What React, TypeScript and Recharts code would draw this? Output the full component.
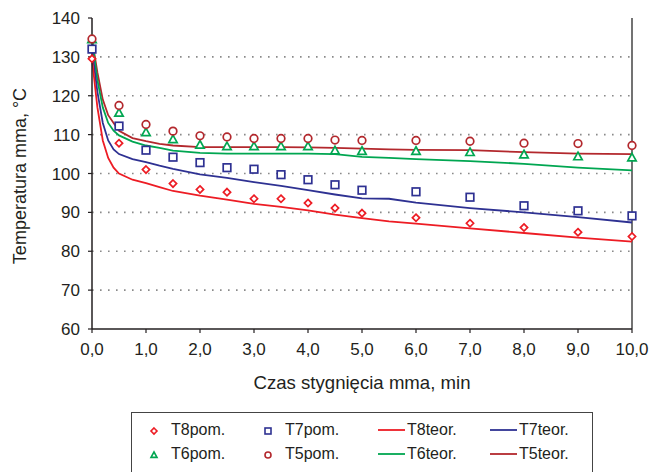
import React from 'react';
import {
  ComposedChart,
  Line,
  Scatter,
  XAxis,
  YAxis,
  CartesianGrid,
  ReferenceLine,
} from 'recharts';

// measured points (pom.)
const MEAS_X = [0, 0.5, 1, 1.5, 2, 2.5, 3, 3.5, 4, 4.5, 5, 6, 7, 8, 9, 10];
const T8_POM = [129.5, 107.8, 101, 97.4, 95.9, 95.2, 93.5, 93.5, 92.4, 91.1, 89.8, 88.6, 87.2, 86.1, 84.9, 83.8];
const T7_POM = [132, 112.2, 106, 104.2, 102.8, 101.5, 101.1, 99.7, 98.4, 97.1, 95.7, 95.3, 93.9, 91.7, 90.4, 89.1];
const T6_POM = [134.5, 115.6, 110.6, 108.8, 107.4, 107, 107, 107, 107, 105.9, 105.8, 105.8, 105.5, 104.9, 104.4, 104.1];
const T5_POM = [134.6, 117.5, 112.6, 110.9, 109.7, 109.4, 109, 109, 109, 108.6, 108.5, 108.5, 108.3, 107.8, 107.7, 107.2];

// theoretical curves (teor.)
const TEOR_X = [0, 0.1, 0.2, 0.3, 0.4, 0.5, 0.75, 1, 1.25, 1.5, 2, 2.5, 3, 3.5, 4, 4.5, 5, 5.5, 6, 7, 8, 9, 10];
const T8_TEOR = [129.5, 117, 108.5, 104, 101.5, 100, 98.4, 97.5, 96.5, 95.5, 94.3, 93.3, 92.2, 91.4, 90.5, 89.4, 88.5, 87.7, 87.1, 85.9, 84.7, 83.5, 82.5];
const T7_TEOR = [132, 121, 113, 108.5, 106.2, 105, 103.7, 102.9, 102, 101.2, 99.8, 98.9, 97.8, 96.8, 95.7, 94.6, 93.6, 93.5, 92.5, 91.1, 90, 88.8, 87.4];
const T6_TEOR = [134.5, 124, 117, 113, 111, 109.8, 108.2, 107.2, 106.6, 105.9, 105.3, 105.1, 105.1, 105.1, 105.1, 105, 104.3, 104, 103.7, 103.2, 102.5, 101.5, 100.8];
const T5_TEOR = [134.6, 126, 119, 115, 113, 111, 109.1, 108.3, 107.6, 107.2, 106.8, 106.8, 106.8, 106.8, 106.7, 106.6, 106.4, 106.2, 106.1, 106, 105.5, 105.1, 105];

const X_TICKS = [0, 1, 2, 3, 4, 5, 6, 7, 8, 9, 10];
const Y_TICKS = [60, 70, 80, 90, 100, 110, 120, 130, 140];
const GRID_Y = [70, 80, 90, 100, 110, 120, 130];

const C_T8 = '#ed1c24';
const C_T7 = '#2e3192';
const C_T6 = '#00a651';
const C_T5 = '#b3282d';

const FONT = '"Liberation Sans", Arial, sans-serif';
const TEXT = '#231f20';

const toPoints = (xs: number[], ys: number[]) => xs.map((x, i) => ({ x, y: ys[i] }));

const fmt = (v: number) => v.toFixed(1).replace('.', ',');

type Marker = 'diamond' | 'square' | 'triangle' | 'circle';

function markerPath(kind: Marker, cx: number, cy: number, s: number, color: string, sw: number) {
  if (kind === 'diamond') {
    return (
      <polygon
        points={`${cx},${cy - s} ${cx + s},${cy} ${cx},${cy + s} ${cx - s},${cy}`}
        fill="#fff"
        stroke={color}
        strokeWidth={sw}
      />
    );
  }
  if (kind === 'square') {
    return <rect x={cx - s} y={cy - s} width={s * 2} height={s * 2} fill="#fff" stroke={color} strokeWidth={sw} />;
  }
  if (kind === 'triangle') {
    return (
      <polygon
        points={`${cx},${cy - s} ${cx + s},${cy + s * 0.8} ${cx - s},${cy + s * 0.8}`}
        fill="#fff"
        stroke={color}
        strokeWidth={sw}
      />
    );
  }
  return <circle cx={cx} cy={cy} r={s} fill="#fff" stroke={color} strokeWidth={sw} />;
}

const makeShape = (kind: Marker, color: string, size: number) => (props: any) => {
  const { cx, cy } = props;
  if (cx == null || cy == null) return <g />;
  return markerPath(kind, cx, cy, size, color, 1.7);
};

const LEGEND_ITEMS: { label: string; color: string; kind: Marker | 'line'; col: number; row: number }[] = [
  { label: 'T8pom.', color: C_T8, kind: 'diamond', col: 0, row: 0 },
  { label: 'T7pom.', color: C_T7, kind: 'square', col: 1, row: 0 },
  { label: 'T8teor.', color: C_T8, kind: 'line', col: 2, row: 0 },
  { label: 'T7teor.', color: C_T7, kind: 'line', col: 3, row: 0 },
  { label: 'T6pom.', color: C_T6, kind: 'triangle', col: 0, row: 1 },
  { label: 'T5pom.', color: C_T5, kind: 'circle', col: 1, row: 1 },
  { label: 'T6teor.', color: C_T6, kind: 'line', col: 2, row: 1 },
  { label: 'T5teor.', color: C_T5, kind: 'line', col: 3, row: 1 },
];

// column starts inside the legend box (relative to box left)
const COL_X = [12, 126, 244, 356];
const ROW_Y = [17, 41];

function ChartLegend() {
  return (
    <div
      style={{
        position: 'absolute',
        left: 131,
        top: 412,
        width: 462,
        height: 64,
        boxSizing: 'border-box',
        border: '1.5px solid #444',
        fontFamily: FONT,
        fontSize: 16,
        color: TEXT,
      }}
    >
      {LEGEND_ITEMS.map((it) => {
        const x = COL_X[it.col];
        const y = ROW_Y[it.row];
        const isLine = it.kind === 'line';
        return (
          <div key={it.label} style={{ position: 'absolute', left: x, top: y - 10, height: 20, display: 'flex', alignItems: 'center' }}>
            <svg width={isLine ? 30 : 20} height={20} style={{ display: 'block' }}>
              {isLine ? (
                <line x1={2} y1={10} x2={29} y2={10} stroke={it.color} strokeWidth={1.8} />
              ) : (
                markerPath(it.kind as Marker, 10, 11, 3, it.color, 1.6)
              )}
            </svg>
            <span style={{ marginLeft: isLine ? 1 : 7, lineHeight: '20px', whiteSpace: 'nowrap' }}>{it.label}</span>
          </div>
        );
      })}
    </div>
  );
}

export default function App() {
  return (
    <div
      style={{
        position: 'absolute',
        left: 0,
        top: 0,
        width: 652,
        height: 472,
        overflow: 'hidden',
        background: '#fff',
        fontFamily: FONT,
      }}
    >
      <ComposedChart width={652} height={472} margin={{ top: 18, right: 20, bottom: 0, left: 0 }}>
        <CartesianGrid
          horizontal
          vertical={false}
          horizontalValues={GRID_Y}
          stroke="#8a8a8a"
          strokeWidth={1.6}
          strokeDasharray="1.6 6.4"
        />
        <XAxis
          dataKey="x"
          type="number"
          domain={[0, 10]}
          ticks={X_TICKS}
          tickFormatter={fmt}
          interval={0}
          height={143}
          tickSize={4}
          tickMargin={10}
          axisLine={{ stroke: '#231f20', strokeWidth: 1.5 }}
          tickLine={{ stroke: '#231f20', strokeWidth: 1.2 }}
          tick={{ fontSize: 17, fill: TEXT, fontFamily: FONT }}
          label={{
            content: () => (
              <text x={362} y={389} textAnchor="middle" fontSize={18.6} fill={TEXT} fontFamily={FONT}>
                Czas stygnięcia mma, min
              </text>
            ),
          }}
        />
        <YAxis
          dataKey="y"
          type="number"
          domain={[60, 140]}
          ticks={Y_TICKS}
          interval={0}
          allowDataOverflow
          width={92}
          tickSize={4}
          tickMargin={8}
          axisLine={{ stroke: '#231f20', strokeWidth: 1.5 }}
          tickLine={{ stroke: '#231f20', strokeWidth: 1.2 }}
          tick={{ fontSize: 17, fill: TEXT, fontFamily: FONT }}
          label={{
            content: () => (
              <text
                x={26}
                y={176}
                transform="rotate(-90 26 176)"
                textAnchor="middle"
                fontSize={18}
                fill={TEXT}
                fontFamily={FONT}
              >
                Temperatura mma, °C
              </text>
            ),
          }}
        />
        <ReferenceLine x={10} stroke="#444" strokeWidth={1.5} />
        <Line data={toPoints(TEOR_X, T5_TEOR)} dataKey="y" type="linear" stroke={C_T5} strokeWidth={1.8} dot={false} activeDot={false} isAnimationActive={false} />
        <Line data={toPoints(TEOR_X, T6_TEOR)} dataKey="y" type="linear" stroke={C_T6} strokeWidth={1.8} dot={false} activeDot={false} isAnimationActive={false} />
        <Line data={toPoints(TEOR_X, T7_TEOR)} dataKey="y" type="linear" stroke={C_T7} strokeWidth={1.8} dot={false} activeDot={false} isAnimationActive={false} />
        <Line data={toPoints(TEOR_X, T8_TEOR)} dataKey="y" type="linear" stroke={C_T8} strokeWidth={1.8} dot={false} activeDot={false} isAnimationActive={false} />
        <Scatter data={toPoints(MEAS_X, T8_POM)} dataKey="y" shape={makeShape('diamond', C_T8, 3.6)} isAnimationActive={false} />
        <Scatter data={toPoints(MEAS_X, T7_POM)} dataKey="y" shape={makeShape('square', C_T7, 3.8)} isAnimationActive={false} />
        <Scatter data={toPoints(MEAS_X, T6_POM)} dataKey="y" shape={makeShape('triangle', C_T6, 4.2)} isAnimationActive={false} />
        <Scatter data={toPoints(MEAS_X, T5_POM)} dataKey="y" shape={makeShape('circle', C_T5, 3.8)} isAnimationActive={false} />
      </ComposedChart>
      <ChartLegend />
    </div>
  );
}
